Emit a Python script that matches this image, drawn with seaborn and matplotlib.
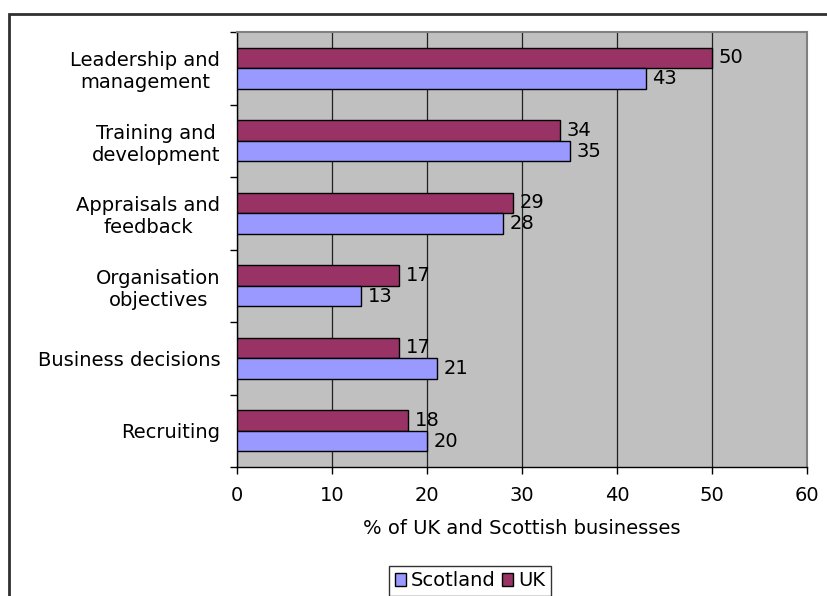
import matplotlib
matplotlib.use("Agg")
import matplotlib.pyplot as plt
import matplotlib.patches as mpatches
from matplotlib.ticker import FixedLocator
import seaborn as sns
import pandas as pd

categories = [
    "Leadership and\nmanagement",
    "Training and\ndevelopment",
    "Appraisals and\nfeedback",
    "Organisation\nobjectives",
    "Business decisions",
    "Recruiting",
]
uk_values = [50, 34, 29, 17, 17, 18]
scotland_values = [43, 35, 28, 13, 21, 20]
series_names = ["UK", "Scotland"]
x_ticks = [0, 10, 20, 30, 40, 50, 60]

colors = {"UK": "#993366", "Scotland": "#9999FF"}

df = pd.DataFrame({
    "category": categories * 2,
    "series": ["UK"] * len(categories) + ["Scotland"] * len(categories),
    "value": uk_values + scotland_values,
})

sns.set_theme(style="white")
plt.rcParams["font.family"] = ["DejaVu Sans"]
plt.rcParams["text.color"] = "black"
plt.rcParams["xtick.color"] = "black"
plt.rcParams["ytick.color"] = "black"
plt.rcParams["axes.labelcolor"] = "black"

FS = 14

fig = plt.figure(figsize=(8.27, 5.96), dpi=100)
ax = fig.add_axes([237 / 827, 1 - 467 / 596, (807 - 237) / 827, (467 - 32) / 596])

sns.barplot(
    data=df, y="category", x="value", hue="series",
    hue_order=series_names, order=categories, palette=colors, saturation=1,
    orient="h", width=0.57, gap=0, edgecolor="black", linewidth=1.0,
    legend=False, ax=ax, zorder=3,
)

ax.set_facecolor("#C0C0C0")
ax.set_xlim(0, 60)
ax.set_ylim(len(categories) - 0.5, -0.5)

ax.set_xticks(x_ticks)
ax.set_xticklabels([str(t) for t in x_ticks], fontsize=FS)
ax.xaxis.grid(True, color="#202020", linewidth=0.9, zorder=0)
ax.set_axisbelow(True)
ax.tick_params(axis="x", direction="out", length=5, width=1, color="black",
               bottom=True, pad=9)

# category labels, ticks on group boundaries
ax.yaxis.set_major_locator(FixedLocator(range(len(categories))))
ax.set_yticklabels(categories, fontsize=FS, ha="right", multialignment="center")
ax.tick_params(axis="y", which="major", length=0, pad=12)
ax.yaxis.set_minor_locator(FixedLocator([i - 0.5 for i in range(len(categories) + 1)]))
ax.tick_params(axis="y", which="minor", direction="out", length=5, width=1,
               color="black", left=True)

ax.set_xlabel("% of UK and Scottish businesses", fontsize=FS, labelpad=10)
ax.set_ylabel("")

for side in ["top", "right"]:
    ax.spines[side].set_color("#808080")
    ax.spines[side].set_linewidth(1.5)
for side in ["left", "bottom"]:
    ax.spines[side].set_color("black")
    ax.spines[side].set_linewidth(1.0)

for container in ax.containers:
    ax.bar_label(container, fmt="%d", padding=5, fontsize=FS, color="black")

handles = [
    mpatches.Patch(facecolor=colors["Scotland"], edgecolor="black", label="Scotland"),
    mpatches.Patch(facecolor=colors["UK"], edgecolor="black", label="UK"),
]
fig.legend(
    handles=handles, loc="center", bbox_to_anchor=(470 / 827, 1 - 581 / 596),
    ncol=2, fontsize=FS, frameon=True, fancybox=False, edgecolor="black",
    handlelength=0.6, handleheight=0.6, handletextpad=0.25, columnspacing=0.3,
    borderpad=0.3,
)

# outer chart frame
fig.patches.append(mpatches.Rectangle(
    (9 / 827, -0.1), 1.2, 1 - 14 / 596 + 0.1, transform=fig.transFigure,
    fill=False, edgecolor="#303030", linewidth=2, zorder=0,
))

fig.savefig("out.png", dpi=100)
